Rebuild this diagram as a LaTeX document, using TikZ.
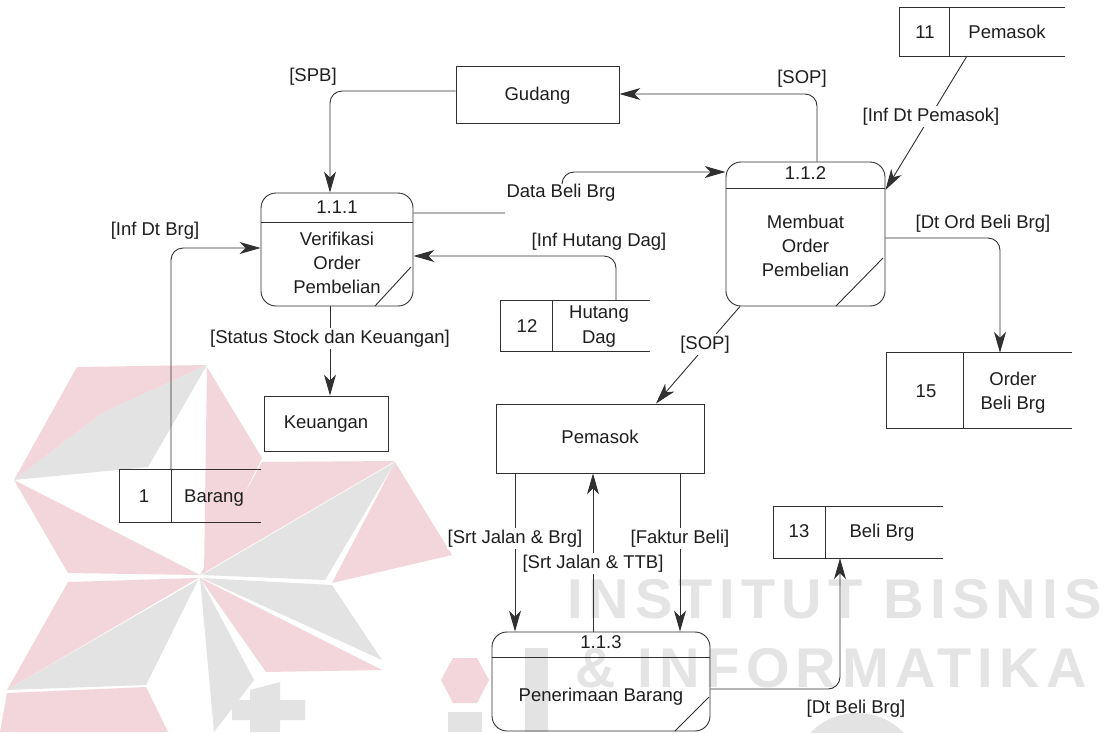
\documentclass[tikz,border=0pt]{standalone}
\usepackage{fontspec}
\setmainfont{Liberation Sans}
\newfontfamily\wmfont[LetterSpace=11]{Liberation Sans}
\usetikzlibrary{arrows.meta,calc}
\definecolor{linec}{HTML}{303030}
\definecolor{txtc}{HTML}{1E1E1E}
\definecolor{wmpink}{HTML}{F3D6DB}
\definecolor{wmgray}{HTML}{E3E3E3}
\definecolor{wmtext}{HTML}{E4E4E4}
\tikzset{
  base/.style={line width=0.9pt, draw=linec},
  procbox/.style={base, rounded corners=15pt, inner sep=0pt},
  entbox/.style={base, inner sep=0pt},
  storebox/.style={inner sep=0pt},
  lbl/.style={font=\fontsize{18.5}{22}\selectfont, text=txtc, inner sep=0pt, anchor=base},
  onlbl/.style={lbl, fill=white, inner xsep=1pt, inner ysep=2pt},
  flow/.style={base, rounded corners=12pt, -{Stealth[length=21pt,width=12pt,inset=6pt]}},
  wmtxt/.style={font=\wmfont\bfseries\fontsize{56}{60}\selectfont, text=wmtext, anchor=base west, inner sep=0pt},
}
\newcommand{\dstore}[6]{%
  \node[storebox, minimum width={#4-#2}, minimum height={#5-#3}] (#1) at ({(#2+#4)/2},{(#3+#5)/2}) {};
  \draw[base] (#1.north east) -- (#1.north west) -- (#1.south west) -- (#1.south east);
  \draw[base] (#6,#3) -- (#6,#5);}
\begin{document}
\begin{tikzpicture}[x=1pt,y=-1pt]
\useasboundingbox (0,0) rectangle (1109,732);
\fill[white] (0,0) rectangle (1109,732);
% ---------- watermark ----------
\begin{scope}
\fill[wmpink] (77,367) -- (207,365) -- (104,412) -- (14,480) -- cycle;
\fill[wmpink] (207,367) -- (262,458) -- (204,575) -- cycle;
\fill[wmpink] (262,462) -- (395,461) -- (200,575) -- cycle;
\fill[wmpink] (395,462) -- (452,555) -- (332,583) -- cycle;
\fill[wmpink] (266,672) -- (382,670) -- (200,578) -- cycle;
\fill[wmpink] (68,582) -- (198,578) -- (7,690) -- cycle;
\fill[wmpink] (14,480) -- (200,575) -- (68,573) -- cycle;
\fill[wmpink] (7,693) -- (146,687) -- (168,732) -- (0,732) -- cycle;
\fill[wmgray] (14,480) -- (104,412) -- (207,365) -- (148,467) -- cycle;
\fill[wmgray] (395,462) -- (325,580) -- (202,575) -- cycle;
\fill[wmgray] (202,578) -- (332,585) -- (382,660) -- cycle;
\fill[wmgray] (200,578) -- (254,680) -- (214,732) -- cycle;
\fill[wmgray] (7,690) -- (198,580) -- (146,685) -- cycle;
% tops of the large logo letters along the bottom edge
\fill[wmgray] (250,690) -- (280,682) -- (280,700) -- (305,700) -- (305,720) -- (280,720) -- (280,732) -- (250,732) -- (250,720) -- (232,720) -- (232,700) -- (250,700) -- cycle;
\fill[wmpink] (441,680) -- (453,658) -- (477,658) -- (489,680) -- (477,703) -- (453,703) -- cycle;
\fill[wmgray] (448,712) rectangle (482,732);
\fill[wmgray] (525,648) rectangle (548,732);
\fill[wmgray, even odd rule] (857,776) ellipse [x radius=64, y radius=63] (857,776) ellipse [x radius=34, y radius=34];
\node[wmtxt] (wm1) at (567,618) {INSTITUT BISNIS};
\node[wmtxt] (wm2) at (575,687) {\& INFORMATIKA};
\end{scope}
% ---------- processes ----------
\node[procbox, minimum width=152pt, minimum height=113pt] (p111) at (337,249.5) {};
\draw[base] (261,222) -- (413,222);
\draw[base] (375,306) -- (411,267);
\node[lbl] at (337,213.5) {1.1.1};
\node[lbl] at (337,245.5) {Verifikasi};
\node[lbl] at (337,269.5) {Order};
\node[lbl] at (337,293.5) {Pembelian};

\node[procbox, minimum width=159pt, minimum height=144pt] (p112) at (805.5,234) {};
\draw[base] (726,188) -- (885,188);
\draw[base] (836,306) -- (883,258);
\node[lbl] at (805.5,179.5) {1.1.2};
\node[lbl] at (805.5,228.5) {Membuat};
\node[lbl] at (805.5,252.5) {Order};
\node[lbl] at (805.5,276) {Pembelian};

\node[procbox, minimum width=218pt, minimum height=99pt] (p113) at (601,681.5) {};
\draw[base] (492,657) -- (710,657);
\draw[base] (675,731) -- (709,697);
\node[lbl] at (601,648.5) {1.1.3};
\node[lbl] at (601,701.5) {Penerimaan Barang};
% ---------- external entities ----------
\node[entbox, minimum width=163pt, minimum height=57pt] (gudang) at (537.5,94.5) {};
\node[lbl] at (537.5,100.5) {Gudang};
\node[entbox, minimum width=124pt, minimum height=55pt] (keu) at (326,423.5) {};
\node[lbl] at (326,428.5) {Keuangan};
\node[entbox, minimum width=208pt, minimum height=69pt] (pem) at (600,438.5) {};
\node[lbl] at (600,443.5) {Pemasok};
% ---------- data stores ----------
\dstore{s1}{120}{470}{261}{522}{171}
\node[lbl] at (144,502.5) {1};
\node[lbl] at (214,502.5) {Barang};
\dstore{s11}{900}{8}{1065}{56}{949}
\node[lbl] at (925,38.5) {11};
\node[lbl] at (1007,38.5) {Pemasok};
\dstore{s12}{501}{301}{650}{351}{552}
\node[lbl] at (527,332.5) {12};
\node[lbl] at (599,318.5) {Hutang};
\node[lbl] at (599,343.5) {Dag};
\dstore{s13}{774}{507}{943}{558}{825}
\node[lbl] at (799,537.5) {13};
\node[lbl] at (882,537.5) {Beli Brg};
\dstore{s15}{887}{353}{1072}{428}{963}
\node[lbl] at (926,397.5) {15};
\node[lbl] at (1013,385.5) {Order};
\node[lbl] at (1013,409.5) {Beli Brg};
% ---------- flows ----------
\draw[flow] (gudang.west |- 0,91) -| (330,0 |- p111.north);
\node[lbl] at (313,81.5) {[SPB]};
\draw[flow] (817,0 |- p112.north) |- (gudang.east |- 0,94);
\node[lbl] at (802,83.5) {[SOP]};
\draw[flow] (p111.east |- 0,213) -- (562,213) -- (562,172) -- (p112.west |- 0,172);
\node[lbl, fill=white, inner xsep=2pt, text depth=18pt] at (561,197) {Data Beli Brg};
\draw[flow] (967,56) -- (p112.east |- 0,190);
\node[onlbl] at (931,121.5) {[Inf Dt Pemasok]};
\draw[flow] (p112.east |- 0,238) -| (1000,0 |- s15.north);
\node[lbl] at (983,228.5) {[Dt Ord Beli Brg]};
\draw[flow] (616,0 |- s12.north) |- (p111.east |- 0,256);
\node[lbl] at (599,246.5) {[Inf Hutang Dag]};
\draw[flow] (171,0 |- s1.north) |- (p111.west |- 0,248);
\node[lbl] at (155,235.5) {[Inf Dt Brg]};
\draw[flow] (330,0 |- p111.south) -- (330,0 |- keu.north);
\node[onlbl] at (330,343.5) {[Status Stock dan Keuangan]};
\draw[flow] (740,0 |- p112.south) -- (656,0 |- pem.north);
\node[onlbl] at (705,349.5) {[SOP]};
\draw[flow] (515,0 |- pem.south) -- (515,0 |- p113.north);
\node[onlbl] at (515,543.5) {[Srt Jalan \& Brg]};
\draw[flow] (593,0 |- p113.north) -- (593,0 |- pem.south);
\node[onlbl] at (593,568.5) {[Srt Jalan \& TTB]};
\draw[flow] (680,0 |- pem.south) -- (680,0 |- p113.north);
\node[onlbl] at (680,543.5) {[Faktur Beli]};
\draw[flow] (p113.east |- 0,689) -| (840,0 |- s13.south);
\node[lbl] at (856,713.5) {[Dt Beli Brg]};
\end{tikzpicture}
\end{document}
